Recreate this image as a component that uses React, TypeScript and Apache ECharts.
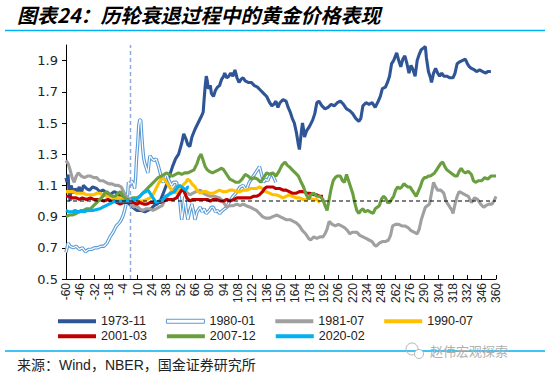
import React, { useEffect, useRef } from 'react';
import * as echarts from 'echarts';

const titleText = '图表24：历轮衰退过程中的黄金价格表现';
const sourceText = '来源：Wind，NBER，国金证券研究所';
const watermarkText = '赵伟宏观探索';

const xTicks = [-60, -46, -32, -18, -4, 10, 24, 38, 52, 66, 80, 94, 108, 122, 136, 150, 164, 178, 192, 206, 220, 234, 248, 262, 276, 290, 304, 318, 332, 346, 360];
const yTicks = [0.5, 0.7, 0.9, 1.1, 1.3, 1.5, 1.7, 1.9];

const seriesNames = ['1973-11', '1980-01', '1981-07', '1990-07', '2001-03', '2007-12', '2020-02'];
const seriesColors = ['#2f5597', '#5b9bd5', '#a0a0a0', '#ffc000', '#c00000', '#6a9f3f', '#00b0f0'];

const s1973: [number, number][] = [[-60,1.15],[-59,1.12],[-58,1.17],[-57,1.06],[-56,1.0],[-55,1.1],[-53,1.05],[-51,1.08],[-49,1.06],[-47,1.09],[-45,1.05],[-43,1.10],[-40,1.08],[-37,1.07],[-34,1.09],[-30,1.08],[-27,1.06],[-24,1.07],[-20,1.05],[-17,1.04],[-13,1.06],[-10,1.05],[-7,1.03],[-4,1.01],[-1,1.0],[2,0.98],[5,0.96],[9,0.94],[13,0.94],[17,0.93],[20,0.94],[23,0.95],[26,0.97],[29,0.98],[32,1.0],[35,1.05],[38,1.1],[41,1.16],[44,1.22],[47,1.27],[50,1.3],[53,1.37],[55,1.43],[57,1.40],[59,1.36],[61,1.35],[63,1.41],[66,1.46],[69,1.5],[72,1.54],[74,1.57],[75,1.66],[76,1.74],[77,1.8],[78,1.77],[79,1.72],[81,1.74],[82,1.69],[84,1.67],[86,1.71],[88,1.73],[90,1.74],[92,1.78],[94,1.80],[95,1.82],[97,1.79],[99,1.80],[101,1.82],[103,1.80],[105,1.84],[107,1.79],[109,1.76],[111,1.78],[113,1.79],[115,1.77],[118,1.76],[121,1.76],[124,1.74],[127,1.73],[130,1.71],[133,1.69],[136,1.67],[139,1.63],[141,1.61],[143,1.62],[145,1.64],[147,1.60],[149,1.63],[152,1.65],[155,1.64],[157,1.60],[159,1.57],[161,1.53],[163,1.50],[165,1.44],[166,1.40],[167,1.36],[168,1.33],[170,1.45],[171,1.50],[172,1.46],[173,1.41],[175,1.45],[178,1.48],[181,1.52],[183,1.56],[185,1.63],[187,1.64],[190,1.61],[193,1.59],[196,1.60],[199,1.62],[202,1.61],[205,1.63],[208,1.64],[211,1.62],[214,1.59],[217,1.58],[220,1.56],[223,1.53],[226,1.51],[228,1.53],[230,1.61],[233,1.63],[236,1.62],[239,1.63],[242,1.60],[245,1.64],[247,1.67],[249,1.72],[252,1.73],[254,1.76],[256,1.80],[258,1.88],[260,1.90],[263,1.95],[265,1.90],[267,1.86],[269,1.91],[271,1.93],[273,1.88],[275,1.82],[277,1.87],[279,1.84],[281,1.80],[283,1.90],[285,1.94],[287,1.97],[289,1.98],[291,1.99],[292,1.92],[294,1.83],[296,1.79],[297,1.76],[299,1.82],[301,1.85],[303,1.82],[305,1.80],[307,1.82],[309,1.80],[312,1.80],[315,1.79],[318,1.79],[320,1.82],[322,1.88],[324,1.89],[327,1.90],[330,1.91],[332,1.88],[334,1.86],[336,1.85],[339,1.84],[341,1.83],[344,1.84],[347,1.83],[350,1.82],[352,1.83],[355,1.83]];

const s1980: [number, number][] = [[-60,0.67],[-58,0.73],[-56,0.71],[-53,0.70],[-50,0.71],[-47,0.69],[-44,0.70],[-41,0.675],[-38,0.69],[-35,0.69],[-32,0.70],[-29,0.70],[-26,0.71],[-23,0.71],[-20,0.73],[-17,0.77],[-14,0.80],[-11,0.84],[-8,0.86],[-6,0.88],[-4,0.91],[-2,0.96],[0,1.02],[1,1.12],[3,1.10],[4,1.13],[6,1.11],[7,1.08],[8,1.15],[9,1.28],[10,1.36],[11,1.48],[12,1.52],[13,1.52],[14,1.42],[15,1.33],[16,1.27],[17,1.24],[19,1.20],[20,1.18],[21,1.24],[22,1.29],[24,1.27],[26,1.26],[28,1.27],[30,1.23],[32,1.18],[34,1.13],[35,1.12],[37,1.15],[38,1.18],[40,1.14],[43,1.10],[45,1.12],[48,1.12],[50,1.06],[51,1.01],[53,0.88],[55,0.97],[56,1.03],[57,0.96],[59,0.88],[61,0.94],[63,0.98],[65,0.92],[66,0.88],[68,0.93],[71,0.96],[73,0.93],[75,0.95],[77,0.92],[80,0.94],[82,0.96],[84,0.96],[86,0.93],[88,0.94],[90,0.92],[93,0.94],[97,0.96],[100,1.0],[103,1.03],[106,1.05],[110,1.09],[113,1.10],[116,1.07],[119,1.12],[123,1.16],[126,1.19],[129,1.22],[131,1.17],[133,1.12],[135,1.14],[137,1.13],[139,1.16],[141,1.18],[143,1.15],[145,1.12]];

const s1981: [number, number][] = [[-60,1.26],[-58,1.24],[-56,1.20],[-54,1.15],[-52,1.12],[-50,1.16],[-48,1.18],[-45,1.16],[-42,1.15],[-39,1.16],[-36,1.16],[-33,1.15],[-30,1.15],[-27,1.13],[-24,1.13],[-21,1.12],[-18,1.11],[-15,1.11],[-12,1.10],[-9,1.10],[-6,1.09],[-3,1.05],[0,1.02],[3,0.99],[6,0.96],[9,0.97],[12,0.95],[15,0.94],[18,0.95],[22,0.95],[25,0.94],[28,0.95],[31,0.96],[34,0.97],[37,1.01],[40,1.04],[43,1.06],[46,1.08],[48,1.10],[51,1.07],[54,1.08],[57,1.06],[61,1.04],[64,1.05],[67,1.06],[71,1.07],[74,1.05],[77,1.04],[81,1.03],[85,1.03],[90,1.02],[94,0.99],[97,0.96],[100,0.97],[103,0.97],[107,0.98],[110,0.97],[113,0.98],[116,0.97],[120,0.96],[123,0.95],[126,0.94],[129,0.92],[132,0.90],[135,0.89],[139,0.89],[142,0.90],[146,0.91],[149,0.90],[152,0.89],[155,0.88],[159,0.88],[162,0.87],[165,0.86],[168,0.84],[171,0.81],[174,0.79],[177,0.76],[179,0.75],[182,0.77],[185,0.76],[188,0.77],[191,0.77],[193,0.79],[195,0.82],[197,0.87],[200,0.85],[203,0.84],[206,0.85],[209,0.84],[212,0.83],[215,0.81],[217,0.79],[220,0.80],[224,0.80],[227,0.78],[230,0.77],[233,0.76],[236,0.75],[239,0.74],[241,0.72],[243,0.71],[246,0.73],[249,0.74],[252,0.74],[255,0.75],[257,0.78],[259,0.84],[262,0.85],[265,0.85],[268,0.84],[271,0.84],[274,0.83],[277,0.81],[280,0.80],[283,0.79],[285,0.82],[287,0.88],[289,0.92],[291,0.96],[293,0.97],[295,0.98],[297,1.05],[299,1.12],[301,1.09],[303,1.07],[306,1.07],[309,1.05],[311,1.00],[314,0.97],[317,0.94],[318,0.92],[320,0.98],[322,1.03],[324,1.06],[327,1.05],[330,1.04],[333,1.03],[336,0.99],[339,1.02],[342,1.01],[345,0.98],[348,0.96],[350,0.97],[353,0.98],[356,0.98],[358,1.0],[360,1.03]];

const s1990: [number, number][] = [[-60,1.06],[-56,1.06],[-53,1.06],[-50,1.05],[-46,1.05],[-43,1.05],[-40,1.04],[-36,1.04],[-33,1.04],[-30,1.05],[-27,1.05],[-24,1.04],[-20,1.03],[-17,1.03],[-14,1.02],[-10,1.02],[-7,1.02],[-4,1.01],[-1,1.0],[2,0.99],[6,0.99],[9,1.0],[12,1.0],[15,1.0],[19,1.01],[22,1.02],[25,1.04],[28,1.08],[31,1.12],[33,1.14],[35,1.15],[37,1.13],[40,1.10],[42,1.08],[45,1.06],[48,1.05],[51,1.07],[54,1.10],[57,1.12],[59,1.14],[61,1.13],[63,1.11],[66,1.09],[69,1.06],[71,1.05],[74,1.06],[77,1.06],[80,1.05],[84,1.05],[87,1.06],[90,1.07],[93,1.06],[97,1.06],[100,1.07],[103,1.07],[107,1.06],[110,1.06],[113,1.07],[117,1.07],[120,1.08],[123,1.08],[126,1.08],[129,1.09],[132,1.08],[135,1.06],[139,1.05],[142,1.04],[145,1.04],[149,1.03],[152,1.02],[155,1.03],[158,1.04],[161,1.03],[165,1.02],[168,1.02],[172,1.01],[175,1.01],[178,1.02],[181,1.01],[185,1.01],[188,0.99]];

const s2001: [number, number][] = [[-60,1.03],[-57,1.03],[-54,1.02],[-50,1.02],[-47,1.01],[-44,1.02],[-40,1.01],[-36,1.02],[-33,1.01],[-30,1.01],[-27,1.01],[-23,1.00],[-19,1.01],[-16,1.00],[-13,1.00],[-10,0.99],[-7,0.98],[-4,0.99],[0,0.99],[3,0.99],[6,0.99],[9,0.98],[12,0.99],[16,0.98],[19,0.98],[22,0.99],[26,0.99],[29,0.99],[32,0.99],[35,1.0],[39,1.01],[42,1.01],[45,1.01],[48,1.02],[51,1.05],[54,1.08],[56,1.05],[58,1.02],[61,1.0],[64,1.01],[68,1.01],[71,1.01],[74,1.01],[78,1.01],[81,1.00],[84,1.01],[87,1.01],[91,1.00],[94,1.00],[97,1.01],[100,1.00],[104,1.01],[107,1.02],[110,1.02],[113,1.02],[117,1.02],[120,1.02],[123,1.03],[126,1.03],[129,1.04],[132,1.06],[134,1.08],[136,1.09],[139,1.09],[142,1.09],[145,1.08],[149,1.08],[152,1.07],[155,1.07],[158,1.06],[161,1.05],[165,1.05],[168,1.06],[172,1.06],[175,1.05],[178,1.05],[182,1.04],[185,1.04],[188,1.03],[191,1.03]];

const s2007: [number, number][] = [[-60,0.90],[-57,0.91],[-54,0.91],[-50,0.92],[-47,0.93],[-43,0.94],[-40,0.95],[-36,0.95],[-33,0.97],[-30,0.99],[-27,1.01],[-24,1.03],[-22,1.05],[-20,1.06],[-17,1.04],[-14,1.03],[-12,1.03],[-9,1.05],[-7,1.06],[-4,1.03],[-1,1.01],[2,1.01],[5,1.02],[9,1.02],[12,1.03],[15,1.05],[18,1.07],[21,1.09],[24,1.11],[27,1.13],[30,1.15],[33,1.16],[36,1.17],[38,1.18],[41,1.17],[44,1.16],[47,1.17],[50,1.18],[53,1.17],[56,1.18],[59,1.18],[62,1.19],[65,1.20],[68,1.24],[70,1.28],[72,1.30],[74,1.26],[76,1.22],[78,1.20],[80,1.19],[83,1.18],[86,1.19],[89,1.20],[92,1.21],[94,1.20],[97,1.17],[100,1.14],[103,1.13],[106,1.12],[109,1.12],[112,1.14],[115,1.17],[118,1.16],[121,1.14],[124,1.15],[127,1.14],[130,1.12],[133,1.15],[136,1.18],[139,1.17],[142,1.18],[145,1.16],[148,1.19],[151,1.23],[154,1.25],[156,1.23],[158,1.22],[161,1.20],[164,1.18],[167,1.16],[169,1.13],[172,1.09],[174,1.05],[177,1.01],[179,1.04],[182,1.05],[185,1.03],[188,1.03],[191,1.01],[193,0.97],[195,0.94],[197,1.01],[199,1.08],[201,1.13],[203,1.15],[205,1.16],[208,1.16],[210,1.13],[212,1.12],[214,1.17],[216,1.13],[218,1.09],[220,1.05],[222,0.99],[224,0.94],[226,0.92],[228,0.94],[230,0.95],[232,0.93],[235,0.94],[237,0.93],[240,0.92],[242,0.95],[244,0.96],[246,0.97],[248,1.01],[250,1.03],[252,1.02],[254,0.99],[256,0.99],[258,1.01],[260,1.03],[262,1.07],[264,1.09],[266,1.08],[268,1.09],[270,1.11],[272,1.10],[274,1.09],[276,1.09],[278,1.07],[280,1.05],[282,1.03],[284,1.06],[286,1.09],[288,1.13],[290,1.15],[292,1.15],[294,1.16],[296,1.16],[298,1.17],[300,1.18],[302,1.20],[304,1.22],[306,1.24],[308,1.25],[310,1.22],[312,1.20],[314,1.19],[316,1.18],[318,1.17],[320,1.16],[322,1.16],[324,1.19],[326,1.21],[328,1.19],[330,1.18],[333,1.19],[336,1.17],[338,1.13],[340,1.12],[343,1.13],[346,1.13],[349,1.15],[352,1.14],[355,1.16],[357,1.16],[360,1.16]];

const s2020: [number, number][] = [[-60,0.94],[-57,0.93],[-54,0.93],[-51,0.94],[-48,0.93],[-45,0.94],[-42,0.93],[-39,0.94],[-36,0.94],[-33,0.94],[-30,0.945],[-27,0.95],[-24,0.96],[-21,0.97],[-18,0.98],[-15,0.99],[-12,1.0],[-9,1.0],[-6,1.0],[-3,1.0],[0,1.0],[3,1.0],[6,1.01],[9,1.01],[12,1.03],[15,1.05],[18,1.06],[20,1.07],[22,1.05],[25,1.02],[28,0.99],[31,1.0],[34,1.0],[37,1.03],[40,1.04],[43,1.05],[46,1.06],[49,1.09],[51,1.10],[53,1.09],[55,1.08],[57,1.07],[59,1.09],[60,1.09]];

const recessionStart = 3;
const baseLevel = 1;
const xMin = -60;
const xMax = 360;
const yMin = 0.5;
const yMax = 2.0;

const FONT = 'Liberation Sans, Arial, Noto Sans CJK SC, sans-serif';

export default function App() {
  const ref = useRef<HTMLDivElement>(null);
  useEffect(() => {
    if (!ref.current) return;
    const chart = echarts.init(ref.current, null, { renderer: 'svg' });
    const dataList = [s1973, s1980, s1981, s1990, s2001, s2007, s2020];
    const series: any[] = [];
    dataList.forEach((d, i) => {
      const name = seriesNames[i];
      const color = seriesColors[i];
      const isDouble = name === '1980-01';
      series.push({
        name,
        type: 'line',
        data: d,
        showSymbol: false,
        symbol: 'none',
        color,
        lineStyle: { color, width: isDouble ? 3.4 : 3.1 },
        z: 2 + i * 2,
        silent: true,
      });
      if (isDouble) {
        series.push({
          name: '1980-01-inner',
          type: 'line',
          data: d,
          showSymbol: false,
          symbol: 'none',
          color: '#ffffff',
          lineStyle: { color: '#ffffff', width: 1.2 },
          z: 3 + i * 2,
          silent: true,
        });
      }
    });
    series.push({
      name: 'vref',
      type: 'line',
      data: [[recessionStart, yMin], [recessionStart, yMax]],
      showSymbol: false,
      symbol: 'none',
      silent: true,
      color: '#8faadc',
      lineStyle: { color: '#8faadc', type: [4, 3], width: 1.5 },
      z: 30,
    });
    series.push({
      name: 'href',
      type: 'line',
      data: [[xMin, baseLevel], [xMax, baseLevel]],
      showSymbol: false,
      symbol: 'none',
      silent: true,
      color: '#000000',
      lineStyle: { color: '#000000', type: [4, 3], width: 1 },
      z: 31,
    });

    const legendItem = (name: string) => {
      const i = seriesNames.indexOf(name);
      if (name === '1980-01') {
        return { name, icon: 'rect', itemStyle: { color: '#ffffff', borderColor: seriesColors[i], borderWidth: 1 } };
      }
      return { name, icon: 'rect', itemStyle: { color: seriesColors[i], borderWidth: 0 } };
    };
    const legendBase = {
      left: 53,
      itemGap: 20,
      itemWidth: 38,
      itemHeight: 4,
      selectedMode: false,
      textStyle: { fontSize: 12.5, color: '#222', fontFamily: FONT },
    };

    chart.setOption({
      animation: false,
      backgroundColor: '#ffffff',
      grid: { left: 66, right: 49, top: 45, bottom: 97, containLabel: false },
      xAxis: {
        type: 'value',
        min: xMin,
        max: xMax,
        axisLine: { show: true, onZero: false, lineStyle: { color: '#000', width: 1 } },
        axisTick: { show: true, inside: true, length: 4, customValues: xTicks, lineStyle: { color: '#000' } },
        axisLabel: { customValues: xTicks, rotate: 90, fontSize: 12, color: '#222', fontFamily: FONT, margin: 4 },
        splitLine: { show: false },
      },
      yAxis: {
        type: 'value',
        min: yMin,
        max: yMax,
        axisLine: { show: true, onZero: false, lineStyle: { color: '#000', width: 1 } },
        axisTick: { show: true, length: 4, customValues: yTicks, lineStyle: { color: '#000' } },
        axisLabel: {
          customValues: yTicks,
          formatter: (v: number) => v.toFixed(1),
          fontSize: 13,
          color: '#222',
          fontFamily: 'DejaVu Sans, sans-serif',
          margin: 8,
        },
        splitLine: { show: false },
      },
      legend: [
        { ...legendBase, top: 310, data: seriesNames.slice(0, 4).map(legendItem) },
        { ...legendBase, top: 325, data: seriesNames.slice(4).map(legendItem) },
      ],
      series,
      graphic: [
        {
          type: 'text',
          left: 17,
          top: 4,
          style: {
            text: titleText,
            fontSize: 20,
            fontWeight: 'bold',
            fontStyle: 'italic',
            fontFamily: 'Noto Sans CJK SC, sans-serif',
            fill: '#000',
            padding: [1, 8, 1, 0],
          },
        },
        {
          type: 'line',
          shape: { x1: 5, y1: 30.5, x2: 545, y2: 30.5 },
          style: { stroke: '#00b0f0', lineWidth: 1.5 },
        },
        {
          type: 'line',
          shape: { x1: 5, y1: 351, x2: 545, y2: 351 },
          style: { stroke: '#00b0f0', lineWidth: 1.5 },
        },
        {
          type: 'text',
          left: 17,
          top: 358,
          style: {
            text: sourceText,
            fontSize: 14,
            fontFamily: 'Liberation Sans, Noto Sans CJK SC, sans-serif',
            fill: '#222',
          },
        },
        {
          type: 'circle',
          shape: { cx: 412, cy: 349, r: 6 },
          style: { fill: 'none', stroke: '#b8b8b8', lineWidth: 1 },
        },
        {
          type: 'circle',
          shape: { cx: 419, cy: 354, r: 4.5 },
          style: { fill: '#fff', stroke: '#b8b8b8', lineWidth: 1 },
        },
        {
          type: 'text',
          left: 430,
          top: 344,
          style: {
            text: watermarkText,
            fontSize: 13,
            fontFamily: 'Noto Sans CJK SC, sans-serif',
            fill: '#b0b0b0',
          },
        },
      ],
    });
    return () => chart.dispose();
  }, []);
  return (
    <div
      ref={ref}
      style={{ position: 'fixed', left: 0, top: 0, width: 545, height: 376, background: '#fff' }}
    />
  );
}
